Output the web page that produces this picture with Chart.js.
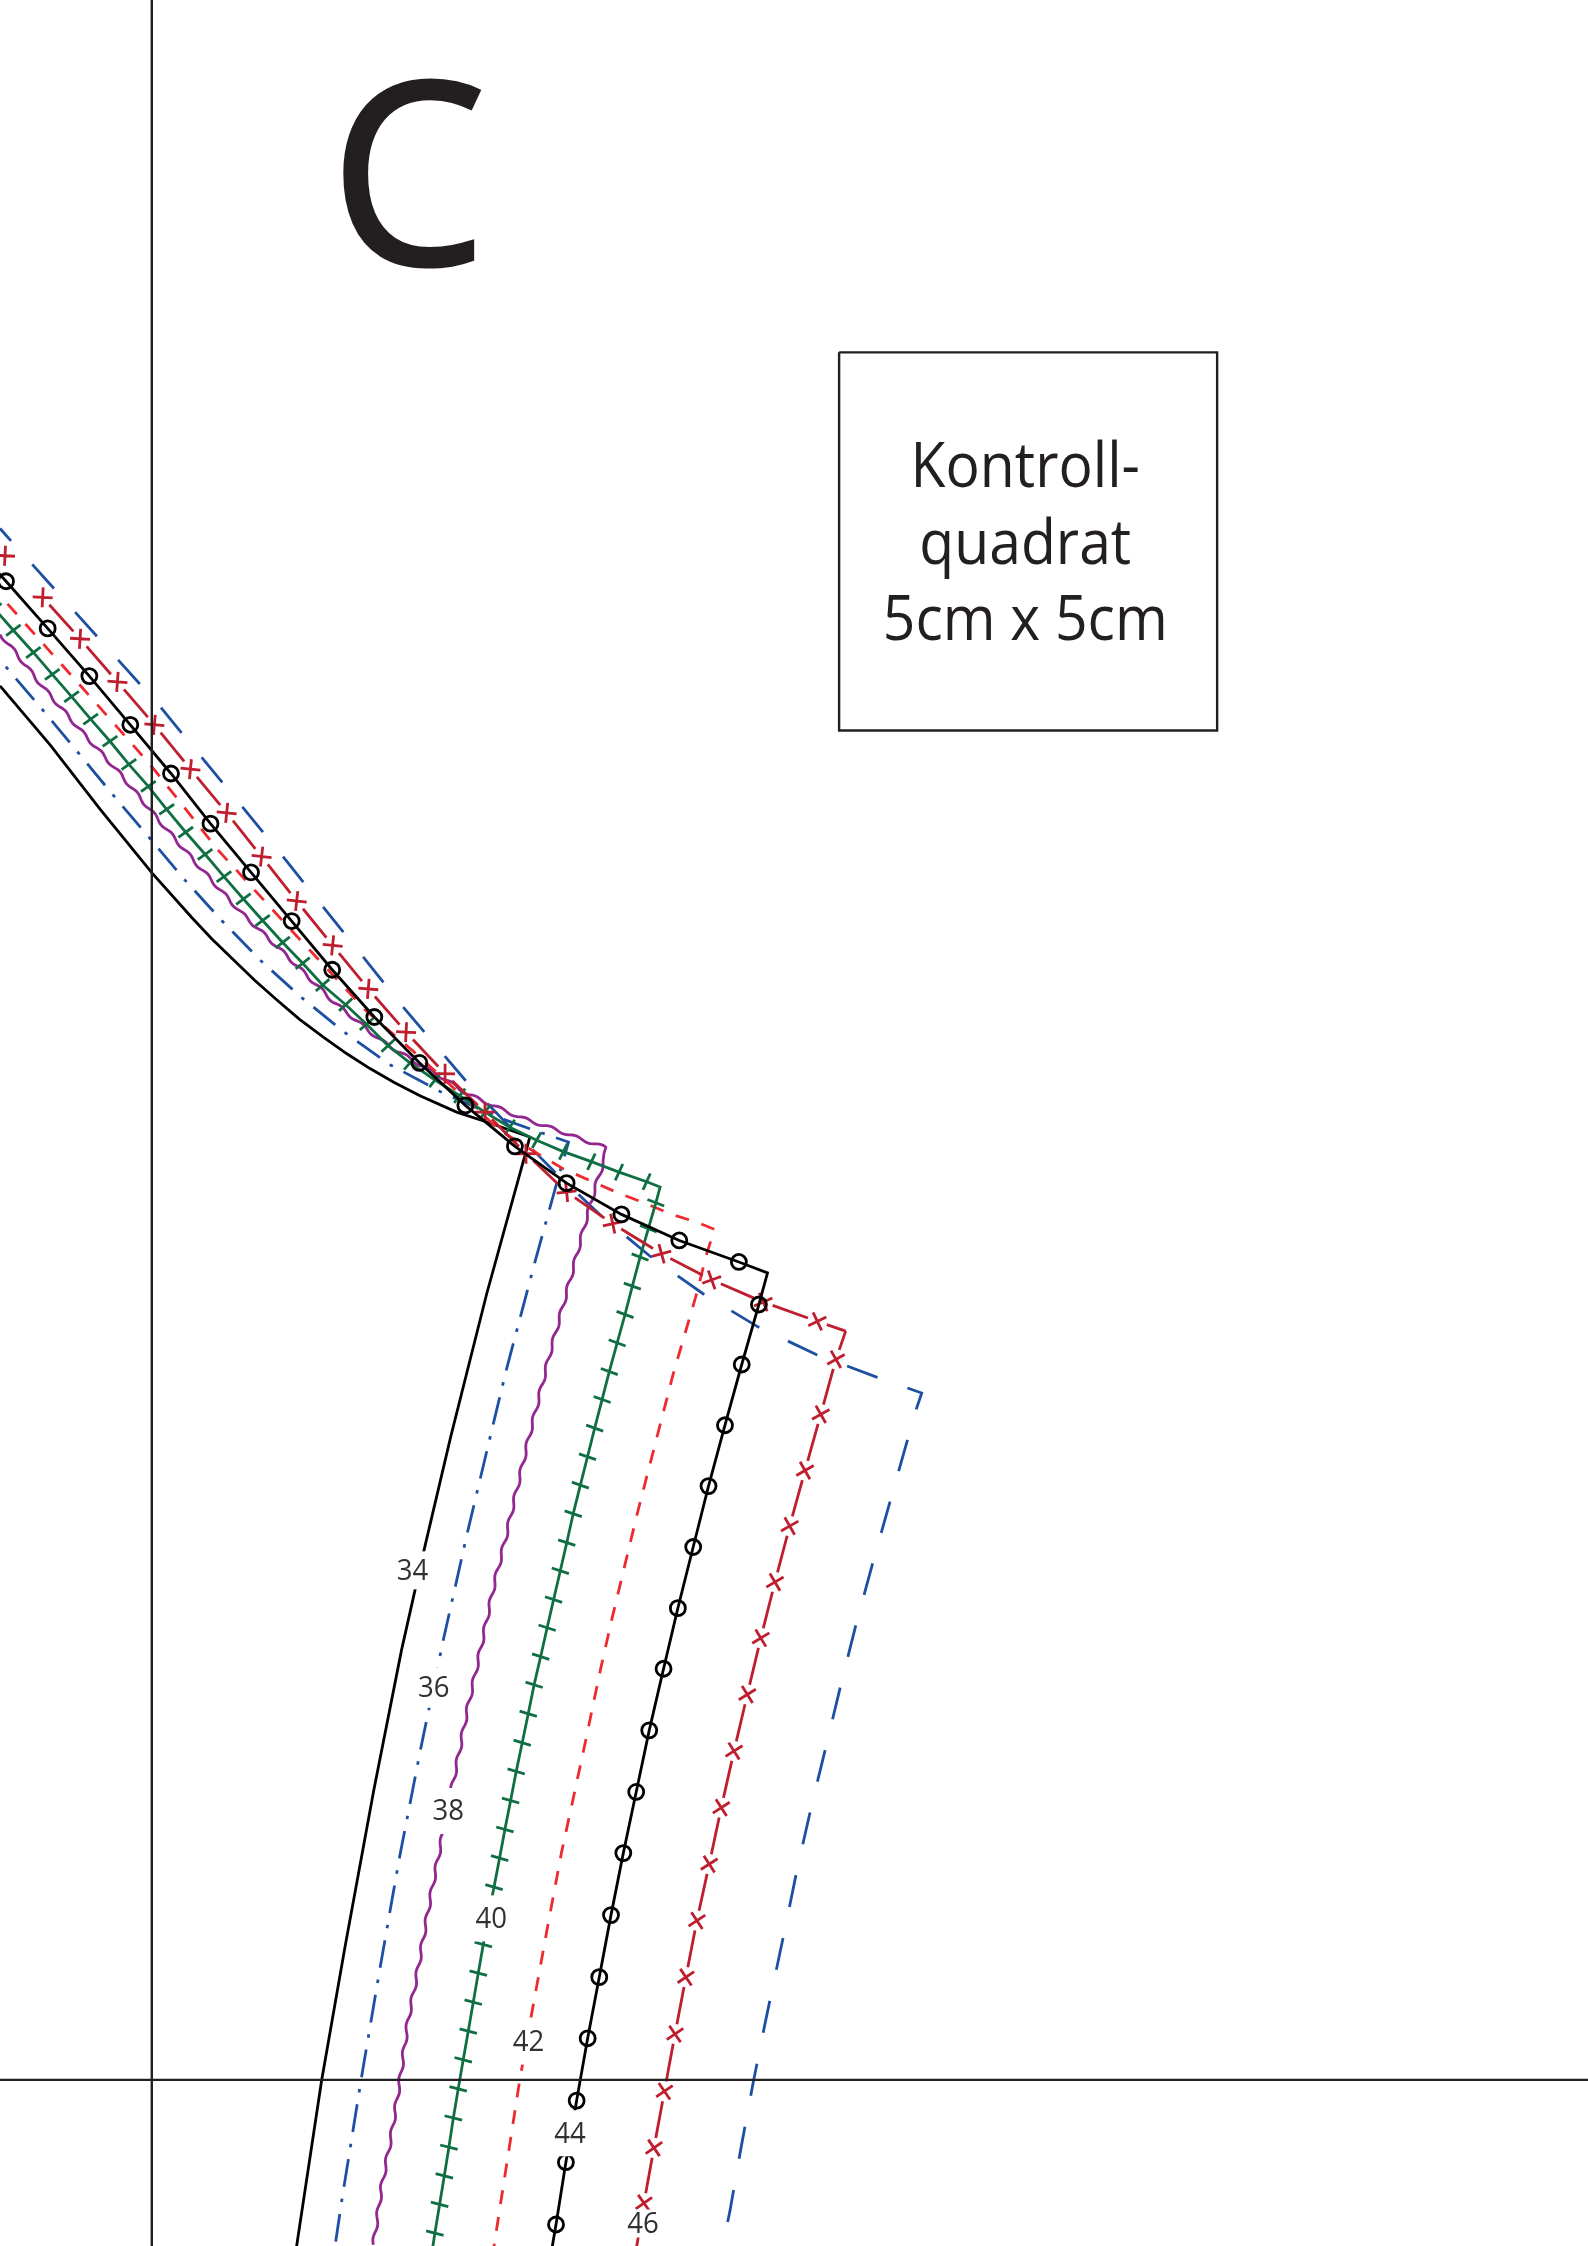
<!DOCTYPE html>
<html>
<head>
<meta charset="utf-8">
<title>Kontrollquadrat</title>
<script src="https://cdn.jsdelivr.net/npm/chart.js@4/dist/chart.umd.min.js"></script>
<style>
    html, body { margin: 0; padding: 0; background: #fff; }
    canvas { display: block; }
</style>
</head>
<body>
<canvas id="pattern" width="1588" height="2246"></canvas>
<script>
// Sheet units: the whole page is 1109 wide and 1568 high
const sheetWidth = 1109;
const sheetHeight = 1568;

const foldX = [[106, 0], [106, 1568]];
const foldY = [[0, 1452], [1109, 1452]];
const controlSquare = [[586, 246], [850, 246], [850, 510], [586, 510], [586, 246]];

const size34 = [[0, 478.8], [35, 520], [70, 565], [106.4, 609.7], [133.9, 640.5], [148, 655.5], [163, 670], [178, 684.5], [193.2, 698],
    [209, 711.5], [225.8, 724], [242, 735.5], [258.4, 746], [275, 755.5], [293.3, 765], [318.9, 776.4], [339.9, 783.3], [370, 793.8], [366.6, 806.6],
    [339.9, 903.2], [314.7, 1003.3], [295.8, 1083.6], [280.4, 1152], [261, 1250], [240.9, 1359.4], [224.6, 1452.5], [207.1, 1568.4]];

const size36 = [[0, 459], [4, 465.4], [29.1, 494.8], [54, 524.7], [78.7, 554.7], [103.8, 584.3], [128.5, 613.7], [154.8, 642.6],
    [182, 670.6], [210.7, 696.5], [241, 721], [272.4, 743.3], [307.3, 762], [350.3, 781], [370, 788], [397, 797.3],
    [388.7, 826.4], [373.6, 881], [353.8, 955.6], [344.5, 994], [326.5, 1069.6], [309.5, 1145.3], [293.7, 1221.3],
    [278.8, 1297.7], [265.3, 1374.5], [252.5, 1450], [238.6, 1536.8], [234, 1568]];

const size38 = [[0, 443], [4.7, 448], [30.3, 480], [55.9, 509.5], [83.8, 540.2], [111.7, 573.6], [139.7, 605.7], [167.6, 636.4],
    [200.2, 667.2], [232.8, 699.2], [265.4, 726], [288.7, 740.6], [309.6, 752.7], [326, 763.5], [347, 773], [363, 780],
    [386.4, 788], [405, 795], [422.5, 801], [422.5, 808], [416.7, 826], [409.7, 850], [398, 894], [384, 945], [368.9, 1005.6],
    [360.2, 1042.9], [352.7, 1075.4], [345.2, 1105.7], [334, 1159], [325.8, 1196.4], [320, 1226.7], [309.1, 1280.7],
    [300.2, 1326.8], [290.9, 1380.3], [285, 1410.6], [279.3, 1452.5], [273.5, 1489.8], [266.5, 1527], [260.7, 1568]];

const corner40 = [461, 828.7];
const size40 = [[-4, 425], [9.3, 440], [23.3, 455.5], [36.5, 470.8], [50, 486.3], [63.3, 502], [76.8, 517.5], [90, 533.6], [103.6, 549],
    [116.4, 565], [129.7, 581], [143.2, 596.4], [156.4, 612], [170, 627.6], [183.4, 642.6], [197.4, 658], [211.4, 672.5],
    [225.3, 687.7], [241.4, 701.4], [256, 715], [271, 730], [286.3, 742], [303.8, 754], [321, 765], [338.7, 776.4], [356, 787],
    [374.8, 796], [393.4, 804], [413, 811], [432.3, 818.3], [451.6, 825], corner40, [458, 839.7], [452.8, 857.8], [447, 877.6],
    [441.6, 897.9], [436.5, 917.7], [431, 937.5], [425.5, 957.5], [420.5, 977], [415.3, 997], [410.3, 1017], [405.3, 1036.8],
    [400.3, 1056.8], [395.8, 1077], [391.3, 1096.6], [386.6, 1116.7], [382.1, 1136.4], [377.6, 1156.5], [373, 1176.2],
    [368.9, 1196.4], [364.7, 1216.7], [360.5, 1236.7], [356.6, 1257], [352.6, 1277.2], [348.9, 1297.2], [345, 1317.5],
    [341, 1337.5], [337.5, 1357.5], [334, 1377.5], [330.5, 1397.8], [327, 1418], [323.5, 1438], [320, 1458.3], [316.6, 1478.6],
    [313.5, 1499], [310.3, 1519], [307, 1539], [303.7, 1559], [300.5, 1580]];

const size42 = [[0, 415], [5.1, 421.4], [57, 479.6], [104.8, 533.6], [152.5, 593.7], [204.9, 651], [256, 706], [288.7, 734], [349, 789],
    [367.8, 800.8], [393.4, 816], [414.4, 825.2], [433, 833.4], [451.6, 840.4], [467.9, 847.4], [486.5, 853.2], [499, 858.3],
    [493.5, 875.3], [486.5, 903.2], [470.2, 959], [445, 1056.8], [427.5, 1129.5], [419.3, 1165.8], [407.8, 1220.9],
    [392.2, 1293], [381.7, 1349], [371.7, 1403.6], [363.1, 1451.3], [345, 1568]];

const corner44 = [536, 888.6];
const size44 = [[-25, 373], [4.2, 405.8], [33.3, 438.7], [62.4, 472], [91, 506], [119.4, 540], [147, 575], [175.3, 609], [203.7, 643],
    [232, 677], [261.4, 710], [292.9, 742], [325, 771.7], [359.6, 800.3], [395.7, 826], [434, 847.8], [474.4, 866], [516, 881],
    corner44, [530, 910.7], [518, 952.6], [506.3, 995], [494.8, 1037.5], [484.1, 1080], [473.4, 1122.7], [463.4, 1165],
    [453.4, 1208], [444.3, 1251], [435.3, 1293.7], [426.7, 1337], [418.5, 1380.3], [410.4, 1423], [402.7, 1466.5],
    [395.2, 1509.5], [388.3, 1553], [381, 1596]];

const corner46 = [590.6, 929.3];
const size46 = [[-22.8, 359], [3.5, 388], [29.8, 417], [55.9, 446], [82, 476], [107.8, 506], [133, 537], [158.3, 567.5], [182.7, 598],
    [207.2, 629], [232.3, 660], [257.2, 690.4], [283.6, 720.6], [310.8, 749.6], [338.7, 776.4], [367.3, 805.4], [395.7, 832.2],
    [427.9, 854.3], [462, 875.3], [497, 893.5], [533, 909], [570.8, 922.5], corner46, [583.8, 949], [573.2, 987.4], [562.2, 1026.6],
    [551.5, 1065.4], [541.2, 1104.5], [531.3, 1143.6], [521.9, 1183], [512.6, 1222.5], [503.7, 1262], [495.3, 1301.4],
    [486.7, 1340.8], [479, 1380.3], [471.4, 1420], [464, 1460], [456.7, 1499.5], [449.7, 1538], [441, 1590]];

const size48 = [[0, 369], [112, 493.5], [197.4, 597.7], [281, 702.4], [324.8, 754], [351.5, 782], [388.7, 819.4], [420, 849], [454, 877],
    [491, 903.2], [529.6, 926.5], [570, 945.6], [612.2, 961.4], [643.7, 972.5], [640, 983.5], [634, 1004.4], [622, 1046.8],
    [610, 1089.4], [598.4, 1131.8], [587.7, 1174.3], [577.3, 1217.4], [566.8, 1260.5], [557, 1303.5], [548.2, 1346.6],
    [534.2, 1413], [525.6, 1456], [517.5, 1499.5], [509.8, 1543.3], [504.7, 1568]];

const sizeLabels = ['34', '36', '38', '40', '42', '44', '46'];
const sizeLabelX = [288, 303, 313, 343, 369, 398, 449];
const sizeLabelY = [1097, 1179, 1265, 1340, 1426, 1490, 1553];

const sheetLetter = 'C';
const squareLines = ['Kontroll-', 'quadrat', '5cm x 5cm'];

const BLACK = '#000000';
const INK = '#231f20';
const BLUE = '#1d50a2';
const PURPLE = '#92278f';
const GREEN = '#0f6f42';
const RED = '#ee2a2e';
const DARK_RED = '#be1e2d';

function toPoints(list) {
    return list.map(p => ({ x: p[0], y: p[1] }));
}

// Direction of the line at a point, ignoring the neighbour if it is the corner
function heading(list, i, corner) {
    let a = i - 1;
    let b = i + 1;
    if (a < 0 || list[a] === corner) a = i;
    if (b >= list.length || list[b] === corner) b = i;
    return Math.atan2(list[b][1] - list[a][1], list[b][0] - list[a][0]) * 180 / Math.PI;
}

function plainLine(list, color, width, dash, dashOffset) {
    return {
        data: toPoints(list),
        showLine: true,
        tension: 0,
        pointRadius: 0,
        borderColor: color,
        borderWidth: width,
        borderDash: dash || [],
        borderDashOffset: dashOffset || 0,
        borderJoinStyle: 'miter'
    };
}

function markedLine(list, corner, color, style, radius, turn) {
    const ds = plainLine(list, color, 2.8);
    ds.pointStyle = style;
    ds.pointRadius = c => (list[c.dataIndex] === corner ? 0 : radius);
    ds.pointRotation = c => heading(list, c.dataIndex, corner) + turn;
    ds.pointBorderColor = color;
    ds.pointBorderWidth = 2.8;
    ds.pointBackgroundColor = 'transparent';
    return ds;
}

// The dark red line stops short of each cross
const crossGap = 10;
const gappedSegment = {
    borderDash: c => {
        const len = Math.hypot(c.p1.x - c.p0.x, c.p1.y - c.p0.y);
        const startGap = size46[c.p0DataIndex] === corner46 ? 0 : crossGap;
        const endGap = size46[c.p1DataIndex] === corner46 ? 0 : crossGap;
        return [0, startGap, len - startGap - endGap, 100];
    }
};

// Size 38 is a wavy line, the wave is only a line style
const wavyLine = {
    id: 'wavyLine',
    afterDatasetDraw(chart, args) {
        const ds = chart.data.datasets[args.index];
        if (!ds.wavy) return;
        const pts = args.meta.data;
        const ctx = chart.ctx;
        let walked = 0;
        ctx.save();
        ctx.beginPath();
        for (let i = 1; i < pts.length; i++) {
            const dx = pts[i].x - pts[i - 1].x;
            const dy = pts[i].y - pts[i - 1].y;
            const len = Math.hypot(dx, dy);
            for (let s = 0; s < len; s += 2) {
                const off = Math.sin((walked + s) / 27 * 2 * Math.PI) * 1.4;
                ctx.lineTo(pts[i - 1].x + dx * s / len - dy / len * off, pts[i - 1].y + dy * s / len + dx / len * off);
            }
            walked += len;
        }
        ctx.strokeStyle = ds.wavy;
        ctx.lineWidth = 2.8;
        ctx.stroke();
        ctx.restore();
    }
};

// The sheet font is narrower than the installed ones, so squeeze it a little
function squeezedText(ctx, text, x, y, squeeze, outline) {
    ctx.save();
    ctx.translate(x, y);
    ctx.scale(squeeze, 1);
    ctx.fillText(text, 0, 0);
    if (outline) {
        ctx.lineWidth = outline;
        ctx.strokeStyle = ctx.fillStyle;
        ctx.strokeText(text, 0, 0);
    }
    ctx.restore();
}

// Texts: the size numbers sit on white boxes that break the lines
const sheetTexts = {
    id: 'sheetTexts',
    afterDraw(chart) {
        const ctx = chart.ctx;
        const sx = chart.scales.x;
        const sy = chart.scales.y;
        const boxHeights = [38, 40, 46, 46, 46, 46, 28];

        ctx.save();
        ctx.textAlign = 'center';
        ctx.textBaseline = 'middle';
        sizeLabels.forEach((label, i) => {
            const x = sx.getPixelForValue(sizeLabelX[i]);
            const y = sy.getPixelForValue(sizeLabelY[i]);
            ctx.fillStyle = '#fff';
            ctx.fillRect(x - 23, y - 1 - boxHeights[i] / 2, 46, boxHeights[i]);
            ctx.fillStyle = '#333031';
            ctx.font = '29px "Open Sans"';
            squeezedText(ctx, label, x, y, 0.95);
        });

        ctx.fillStyle = INK;
        ctx.textBaseline = 'alphabetic';
        ctx.font = '255px "Open Sans"';
        squeezedText(ctx, sheetLetter, sx.getPixelForValue(285), sy.getPixelForValue(185), 0.98, 3);

        ctx.font = '62px "Open Sans"';
        const baselines = [340, 394, 447];
        squareLines.forEach((line, i) => {
            squeezedText(ctx, line, sx.getPixelForValue(716), sy.getPixelForValue(baselines[i]), 0.92);
        });
        ctx.restore();
    }
};

const size38Set = plainLine(size38, PURPLE, 0);
size38Set.showLine = false;
size38Set.wavy = PURPLE;

const size46Set = markedLine(size46, corner46, DARK_RED, 'cross', 10, -45);
size46Set.segment = gappedSegment;

new Chart(document.getElementById('pattern'), {
    type: 'scatter',
    data: {
        datasets: [
            plainLine(foldX, INK, 2.4),
            plainLine(foldY, INK, 2.4),
            plainLine(controlSquare, INK, 2.4),
            markedLine(size44, corner44, BLACK, 'circle', 7.5, 0),
            size46Set,
            markedLine(size40, corner40, GREEN, 'line', 9, -85),
            plainLine(size42, RED, 2.8, [14, 13], 15),
            size38Set,
            plainLine(size48, BLUE, 2.8, [32.5, 31.7], 16),
            plainLine(size36, BLUE, 2.8, [28, 12, 3.5, 12], 29),
            plainLine(size34, BLACK, 2.8)
        ]
    },
    options: {
        responsive: false,
        animation: false,
        devicePixelRatio: 1,
        layout: { padding: 0, autoPadding: false },
        plugins: {
            legend: { display: false },
            tooltip: { enabled: false }
        },
        scales: {
            x: { type: 'linear', min: 0, max: sheetWidth, display: false },
            y: { type: 'linear', min: 0, max: sheetHeight, reverse: true, display: false }
        }
    },
    plugins: [wavyLine, sheetTexts]
});
</script>
</body>
</html>
